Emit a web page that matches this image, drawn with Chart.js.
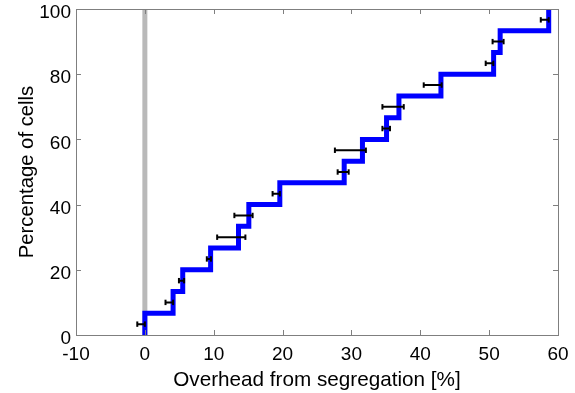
<!DOCTYPE html>
<html>
<head>
<meta charset="utf-8">
<script src="https://cdn.jsdelivr.net/npm/chart.js@4.4.0/dist/chart.umd.min.js"></script>
<style>
  html, body { margin: 0; padding: 0; background: #fff; }
  #wrap { width: 575px; height: 393px; position: relative; }
</style>
</head>
<body>
<div id="wrap"><canvas id="cdfChart"></canvas></div>
<script>
// Step positions of the empirical CDF (overhead %, cumulative % of cells)
const stepX = [0, 0, 4.1, 5.5, 9.55, 13.6, 15.1, 19.6, 28.95, 31.6, 35.1, 36.9, 43.0, 50.65, 51.6, 58.65];
const cdfPct = [0, 6.67, 13.33, 20, 26.67, 33.33, 40, 46.67, 53.33, 60, 66.67, 73.33, 80, 86.67, 93.33, 100];

// Horizontal error bars, one per cell
const errY = [3.33, 10, 16.67, 23.33, 30, 36.67, 43.33, 50, 56.67, 63.33, 70, 76.67, 83.33, 90, 96.67];
const errLow = [-1.1, 3.0, 4.95, 9.0, 10.5, 13.0, 18.55, 28.0, 27.6, 34.5, 34.5, 40.5, 49.5, 50.5, 57.5];
const errHigh = [0, 4.1, 5.7, 9.6, 14.6, 15.65, 19.6, 29.6, 32.1, 35.6, 37.6, 43.1, 50.6, 52.1, 58.65];

// Reference line at zero overhead
const refX = [0, 0];
const refY = [0, 100];

// Axis ticks
const xTicks = [-10, 0, 10, 20, 30, 40, 50, 60];
const yTicks = [0, 20, 40, 60, 80, 100];

const FONT = "'Liberation Sans', Arial, Helvetica, sans-serif";
const AXIS_COLOR = '#7f7f7f';

// Error bar segments, separated by gaps
const errData = [];
errY.forEach((y, i) => {
  errData.push({ x: errLow[i], y: y });
  errData.push({ x: errHigh[i], y: y });
  errData.push({ x: errHigh[i], y: null });
});

// Matlab-like box with inward ticks on all four sides
const boxPlugin = {
  id: 'boxPlugin',
  afterDatasetsDraw(chart) {
    const { ctx, chartArea: a, scales } = chart;
    const len = 5;
    ctx.save();
    ctx.strokeStyle = AXIS_COLOR;
    ctx.lineWidth = 1;
    ctx.beginPath();
    xTicks.forEach(v => {
      const px = Math.round(scales.x.getPixelForValue(v)) + 0.5;
      if (v === xTicks[0] || v === xTicks[xTicks.length - 1]) return;
      ctx.moveTo(px, a.bottom);
      ctx.lineTo(px, a.bottom - len);
      ctx.moveTo(px, a.top);
      ctx.lineTo(px, a.top + len);
    });
    yTicks.forEach(v => {
      const py = Math.round(scales.y.getPixelForValue(v)) + 0.5;
      if (v === yTicks[0] || v === yTicks[yTicks.length - 1]) return;
      ctx.moveTo(a.left, py);
      ctx.lineTo(a.left + len, py);
      ctx.moveTo(a.right, py);
      ctx.lineTo(a.right - len, py);
    });
    ctx.stroke();
    ctx.strokeRect(Math.round(a.left) + 0.5, Math.round(a.top) + 0.5,
      Math.round(a.right - a.left), Math.round(a.bottom - a.top));
    ctx.restore();
  }
};

// fixed scale sizes, no extra label padding so the plot box lands where the reference has it
function fixX(s) {
  s.height = 58;
  s.paddingLeft = 0;
  s.paddingRight = 0;
}
function fixY(s) {
  s.width = 76;
  s.paddingTop = 0;
  s.paddingBottom = 0;
}

const ctx = document.getElementById('cdfChart').getContext('2d');
new Chart(ctx, {
  type: 'line',
  data: {
    datasets: [
      {
        label: 'error',
        data: errData,
        borderColor: '#000000',
        borderWidth: 2,
        pointStyle: 'line',
        rotation: 90,
        pointRadius: 2.7,
        pointBorderWidth: 2,
        pointBorderColor: '#000000',
        spanGaps: false,
        order: 0
      },
      {
        label: 'cdf',
        data: stepX.map((x, i) => ({ x: x, y: cdfPct[i] })),
        borderColor: '#0000ff',
        borderWidth: 5,
        stepped: 'before',
        pointRadius: 0,
        borderJoinStyle: 'miter',
        borderCapStyle: 'butt',
        order: 1
      },
      {
        label: 'zero',
        data: refX.map((x, i) => ({ x: x, y: refY[i] })),
        borderColor: '#b9b9b9',
        borderWidth: 5,
        pointRadius: 0,
        order: 2
      }
    ]
  },
  options: {
    responsive: true,
    maintainAspectRatio: false,
    animation: false,
    layout: { padding: { left: 0, right: 17, top: 9, bottom: 0 } },
    plugins: {
      legend: { display: false },
      tooltip: { enabled: false }
    },
    scales: {
      x: {
        type: 'linear',
        min: -10,
        max: 60,
        afterFit: fixX,
        afterBuildTicks: s => { s.ticks = xTicks.map(v => ({ value: v })); },
        grid: { display: false, drawTicks: false },
        border: { display: false },
        ticks: {
          color: '#000000',
          padding: 10,
          maxRotation: 0,
          font: { family: FONT, size: 19, lineHeight: 1 }
        },
        title: {
          display: true,
          text: 'Overhead from segregation [%]',
          color: '#000000',
          padding: 0,
          font: { family: FONT, size: 20.7, lineHeight: 1.2 }
        }
      },
      y: {
        type: 'linear',
        min: 0,
        max: 100,
        afterFit: fixY,
        afterBuildTicks: s => { s.ticks = yTicks.map(v => ({ value: v })); },
        grid: { display: false, drawTicks: false },
        border: { display: false },
        ticks: {
          color: '#000000',
          padding: 5,
          labelOffset: 4,
          font: { family: FONT, size: 19, lineHeight: 1 }
        },
        title: {
          display: true,
          text: 'Percentage of cells',
          color: '#000000',
          padding: { top: 15, bottom: 0 },
          font: { family: FONT, size: 20.3, lineHeight: 1.2 }
        }
      }
    }
  },
  plugins: [boxPlugin]
});
</script>
</body>
</html>
